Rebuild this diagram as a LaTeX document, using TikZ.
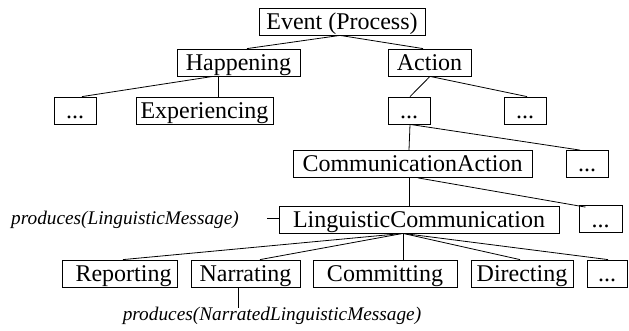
\documentclass[tikz,border=0pt]{standalone}
\usepackage{fontspec}
\setmainfont{Liberation Serif}
\newcommand{\mydots}{.\kern0pt.\kern0pt.}
\begin{document}
\begin{tikzpicture}[x=1pt,y=-1pt,
  box/.style={draw,line width=0.8pt,inner sep=0pt,text height=21.5pt,text depth=5.5pt,minimum height=27pt,font=\fontsize{24}{26}\selectfont},
  lab/.style={inner sep=0pt,font=\fontsize{19.3}{22}\selectfont\itshape},
  edge/.style={line width=0.8pt}]
\useasboundingbox (0,0) rectangle (629,331);
\node[box,minimum width=166pt] (event) at (342,21.5) {Event (Process)};
\node[box,minimum width=123pt] (happ) at (238.5,62.5) {Happening};
\node[box,minimum width=83pt] (action) at (429.5,62.5) {Action};
\node[box,minimum width=42pt] (d1) at (75,110.5) {\mydots};
\node[box,minimum width=137pt] (exp) at (204.5,110.5) {Experiencing};
\node[box,minimum width=42pt] (d2) at (409,110.5) {\mydots};
\node[box,minimum width=42pt] (d3) at (525,110.5) {\mydots};
\node[box,minimum width=239pt] (comm) at (412.5,164) {CommunicationAction};
\node[box,minimum width=42pt] (d4) at (587,164) {\mydots};
\node[box,minimum width=280pt] (ling) at (419,219.5) {LinguisticCommunication};
\node[box,minimum width=43pt] (d5) at (600.5,219) {\mydots};
\node[box,minimum width=115pt] (rep) at (119.5,273.5) {\hspace*{8pt}Reporting};
\node[box,minimum width=109pt] (nar) at (245.5,273.5) {Narrating};
\node[box,minimum width=144pt] (com) at (385,273.5) {Committing};
\node[box,minimum width=102pt] (dir) at (522,273.5) {Directing};
\node[box,minimum width=40pt] (d6) at (607,273.5) {\mydots};
\node[lab,anchor=east] (l1) at (239,220) {produces(LinguisticMessage)};
\node[lab] (l2) at (272,316) {produces(NarratedLinguisticMessage)};
\coordinate (c1) at (267,218);
\coordinate (c2) at (238,308);
% edges
\draw[edge] ([xshift=-2pt]event.south) -- ([xshift=8.5pt]happ.north);
\draw[edge] ([xshift=-2pt]event.south) -- ([xshift=-6.5pt]action.north);
\draw[edge] ([xshift=-25.5pt]happ.south) -- ([xshift=7pt]d1.north);
\draw[edge] ([xshift=-20.5pt]happ.south) -- ([xshift=13.5pt]exp.north);
\draw[edge] ([xshift=0.5pt]action.south) -- ([xshift=1pt]d2.north);
\draw[edge] ([xshift=0.5pt]action.south) -- ([xshift=2pt]d3.north);
\draw[edge] ([xshift=1pt]d2.south) -- ([xshift=-3.5pt]comm.north);
\draw[edge] ([xshift=1pt]d2.south) -- ([xshift=-7pt]d4.north);
\draw[edge] ([xshift=-3.5pt]comm.south) -- ([xshift=-10pt]ling.north);
\draw[edge] ([xshift=5.5pt]comm.south) -- ([xshift=-15pt,yshift=-2pt]d5.north);
\draw[edge] (c1) -- (c1 -| ling.west);
\draw[edge] ([xshift=-16pt]ling.south) -- ([xshift=3.5pt]rep.north);
\draw[edge] ([xshift=-16pt]ling.south) -- ([xshift=14.5pt]nar.north);
\draw[edge] ([xshift=-16pt]ling.south) -- ([xshift=18pt]com.north);
\draw[edge] ([xshift=-16pt]ling.south) -- ([xshift=-2pt]dir.north);
\draw[edge] ([xshift=-16pt]ling.south) -- ([xshift=1pt]d6.north);
\draw[edge] (nar.south -| c2) -- (c2);
\end{tikzpicture}
\end{document}
